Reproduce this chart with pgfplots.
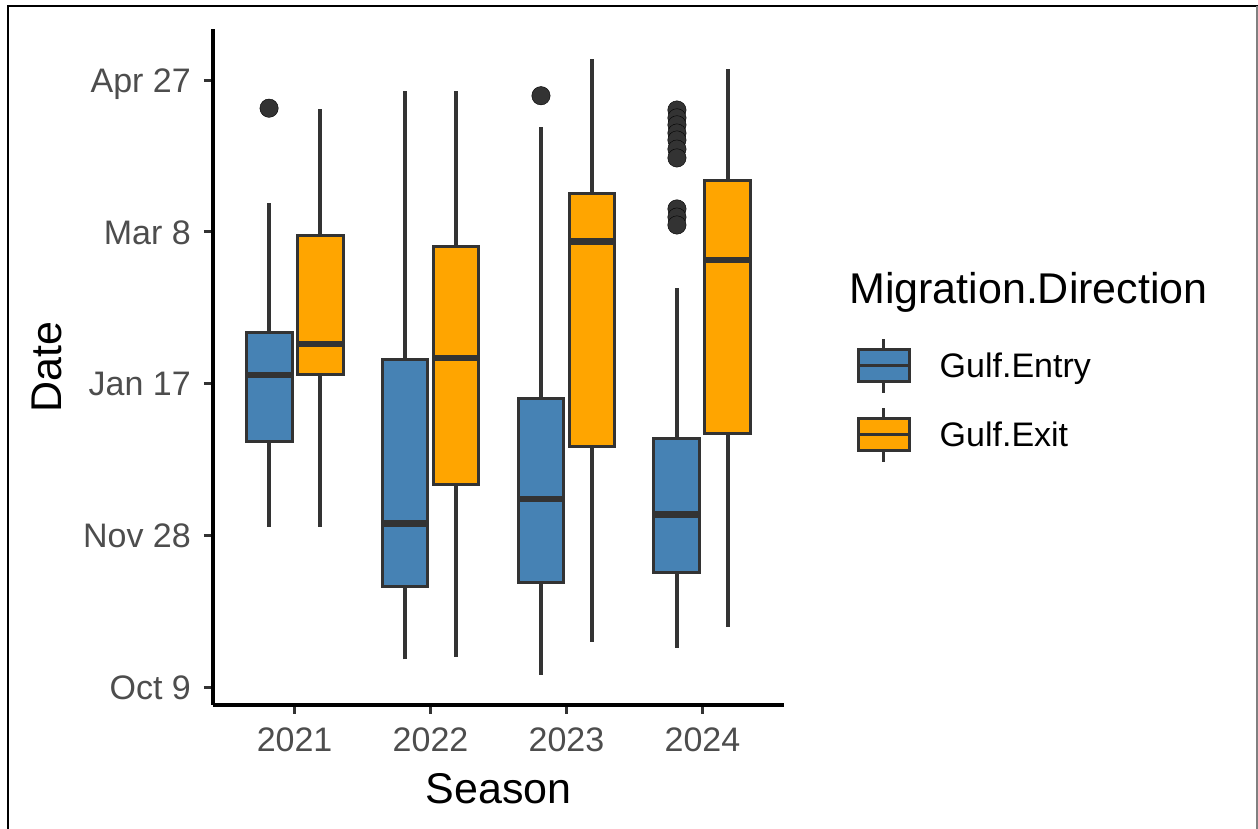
\documentclass[border=0pt]{standalone}
\usepackage{pgfplots}
\pgfplotsset{compat=1.18}
\usepackage{fontspec}
\setmainfont{Liberation Sans}
\definecolor{entryc}{HTML}{4682B4}
\definecolor{exitc}{HTML}{FFA500}
\definecolor{dk}{HTML}{333333}
\definecolor{tickc}{HTML}{4D4D4D}
\pgfplotsset{
  keyimg/.style={legend image code/.code={
    \draw[dk, line width=3pt] (27pt,-27pt) -- (27pt,27pt);
    \filldraw[fill=#1, draw=dk, line width=3pt] (1.5pt,-16pt) rectangle (52.5pt,16pt);
    \draw[dk, line width=3pt] (1.5pt,0pt) -- (52.5pt,0pt);
  }},
}
% #1 left, #2 centre, #3 right, #4 fill, #5 lower whisker, #6 Q1, #7 median, #8 Q3, #9 upper whisker
\newcommand{\bx}[9]{%
  \addplot[forget plot, draw=dk, line width=3.2pt] coordinates {(#2,#5) (#2,#6)};
  \addplot[forget plot, draw=dk, line width=3.2pt] coordinates {(#2,#8) (#2,#9)};
  \addplot[forget plot, fill=#4, draw=dk, line width=3pt, line join=miter] coordinates {(#1,#6) (#3,#6) (#3,#8) (#1,#8)} -- cycle;
  \addplot[forget plot, draw=dk, line width=6.5pt, line cap=butt] coordinates {(#1,#7) (#3,#7)};
}
\begin{document}
\begin{tikzpicture}
\useasboundingbox (0,0) rectangle (1258pt,829pt);
\fill[white] (0,0) rectangle (1258pt,829pt);
\begin{axis}[
  at={(213pt,124pt)}, anchor=south west,
  scale only axis, width=571pt, height=675.7pt,
  xmin=0.4, xmax=4.6, ymin=-5.9, ymax=216.8,
  axis x line*=bottom, axis y line*=left,
  axis line style={black, line width=3.2pt, -},
  xtick={1,2,3,4}, xticklabels={2021,2022,2023,2024},
  ytick={0,50,100,150,200}, yticklabels={Oct 9,Nov 28,Jan 17,Mar 8,Apr 27},
  tick align=outside, major tick length=9pt,
  every tick/.style={dk, line width=3pt},
  ticklabel style={font=\fontsize{34}{40}\selectfont, text=tickc, inner sep=0pt},
  yticklabel style={anchor=base east, xshift=-13pt, yshift=-12.3pt},
  xticklabel style={anchor=north, yshift=-14pt},
  xlabel={Season}, ylabel={Date},
  label style={font=\fontsize{43}{50}\selectfont, inner sep=0pt},
  xlabel style={at={(axis description cs:0.5,-0.1465)}, anchor=base},
  ylabel style={at={(axis description cs:-0.265,0.5)}, anchor=base},
  legend style={at={(axis description cs:1.1273,0.5446)}, anchor=north west,
    draw=none, fill=none, inner sep=0pt, outer sep=0pt, row sep=12pt, column sep=29pt,
    nodes={inner sep=0pt, font=\fontsize{34}{40}\selectfont}},
  legend cell align=left,
  clip=false,
]
% Gulf.Entry
\bx{0.64375}{0.8125}{0.98125}{entryc}{52.8}{80.9}{102.9}{116.8}{159.4}
\bx{1.64375}{1.8125}{1.98125}{entryc}{9.1}{33.3}{54.0}{108.0}{196.6}
\bx{2.64375}{2.8125}{2.98125}{entryc}{4.0}{34.4}{62.0}{95.2}{184.7}
\bx{3.64375}{3.8125}{3.98125}{entryc}{13.0}{37.7}{56.9}{81.8}{131.4}
% Gulf.Exit
\bx{1.01875}{1.1875}{1.35625}{exitc}{52.8}{102.9}{113.0}{149.0}{190.4}
\bx{2.01875}{2.1875}{2.35625}{exitc}{10.0}{66.8}{108.4}{145.2}{196.6}
\bx{3.01875}{3.1875}{3.35625}{exitc}{14.9}{79.2}{146.8}{162.7}{207.0}
\bx{4.01875}{4.1875}{4.35625}{exitc}{19.9}{83.6}{140.8}{166.9}{203.6}
% outliers
\addplot[forget plot, only marks, mark=*, mark size=9.2pt, mark options={fill=dk, draw=none}]
  coordinates {(0.8125,190.8) (2.8125,194.9)
  (3.8125,190.2) (3.8125,187.6) (3.8125,185.3) (3.8125,182.6) (3.8125,180.3)
  (3.8125,177.3) (3.8125,174.4) (3.8125,157.6) (3.8125,154.9) (3.8125,152.3)};
\addlegendimage{keyimg=entryc}
\addlegendentry{Gulf.Entry}
\addlegendimage{keyimg=exitc}
\addlegendentry{Gulf.Exit}
\end{axis}
\node[anchor=base west, inner sep=0pt, font=\fontsize{43}{50}\selectfont] at (849pt,525pt) {Migration.Direction};
\draw[black, line width=2.5pt] (8pt,0pt) -- (8pt,823pt) -- (1258pt,823pt);
\draw[gray, line width=1.2pt] (1257pt,0pt) -- (1257pt,823pt);
\end{tikzpicture}
\end{document}
